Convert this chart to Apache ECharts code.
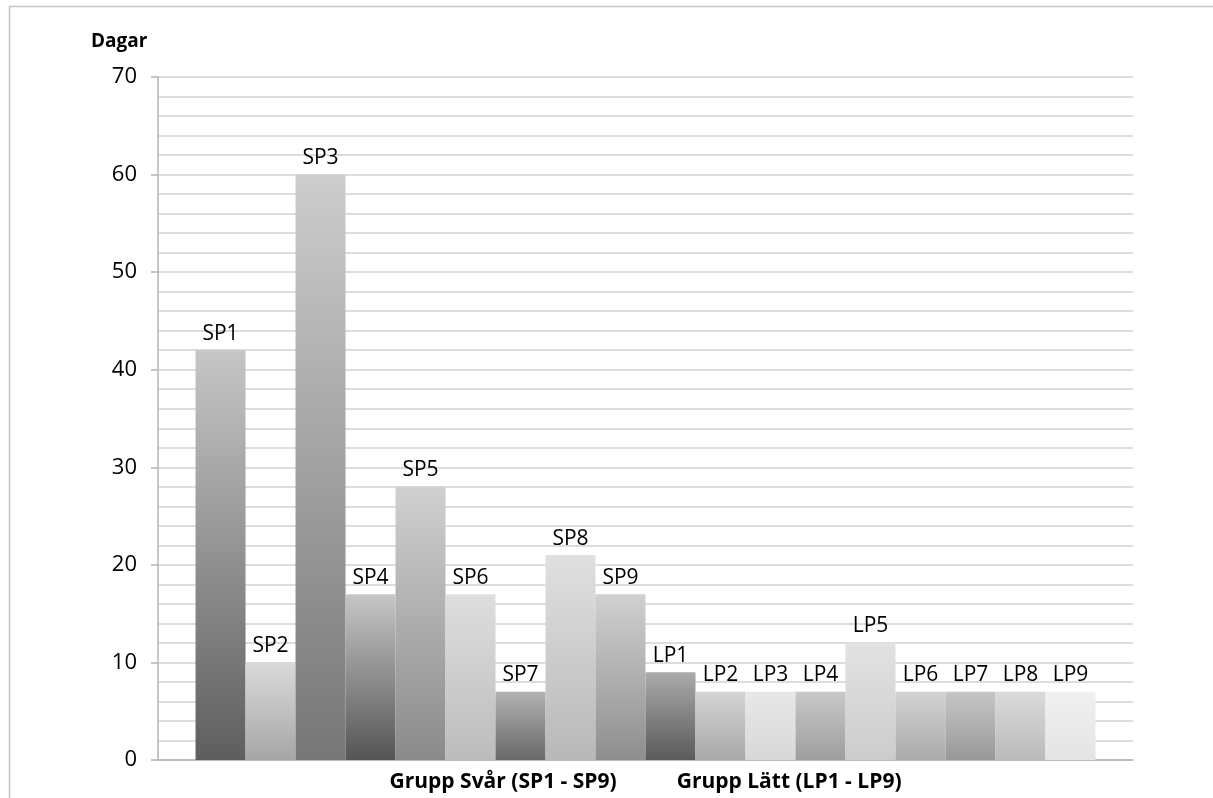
<!DOCTYPE html>
<html>
<head>
<meta charset="utf-8">
<script src="https://cdn.jsdelivr.net/npm/echarts@6/dist/echarts.min.js"></script>
<style>
html,body{margin:0;padding:0;background:#fff;}
#chart{width:1213px;height:798px;}
</style>
</head>
<body>
<div id="chart"></div>
<script>
// ---- data ----
var barNames = ['SP1','SP2','SP3','SP4','SP5','SP6','SP7','SP8','SP9',
                'LP1','LP2','LP3','LP4','LP5','LP6','LP7','LP8','LP9'];
var barValues = [42, 10, 60, 17, 28, 17, 7, 21, 17,
                 9, 7, 7, 7, 12, 7, 7, 7, 7];
var yTicks = [0, 10, 20, 30, 40, 50, 60, 70];
var yTitle = 'Dagar';
var groupLabels = ['Grupp Svår (SP1 - SP9)', 'Grupp Lätt (LP1 - LP9)'];

// ---- styles (gradient top / bottom per bar) ----
var gradTop = ['#c6c6c6','#dadada','#cdcdcd','#c6c6c6','#d0d0d0','#dedede','#b2b2b2','#e0e0e0','#d0d0d0',
               '#aaaaaa','#d4d4d4','#e8e8e8','#c8c8c8','#e2e2e2','#d2d2d2','#c6c6c6','#dadada','#f0f0f0'];
var gradBottom = ['#5e5e5e','#a6a6a6','#767676','#555555','#8a8a8a','#bcbcbc','#686868','#b8b8b8','#8e8e8e',
                  '#5a5a5a','#a8a8a8','#d8d8d8','#9e9e9e','#cccccc','#aaaaaa','#989898','#bababa','#e4e4e4'];

var FONT = 'Open Sans';

var series = barNames.map(function (name, i) {
  return {
    name: name,
    type: 'bar',
    data: [barValues[i]],
    barGap: 0,
    barCategoryGap: '7.7%',
    itemStyle: {
      color: {
        type: 'linear', x: 0, y: 0, x2: 0, y2: 1,
        colorStops: [{offset: 0, color: gradTop[i]}, {offset: 1, color: gradBottom[i]}]
      }
    },
    label: {
      show: true,
      position: 'top',
      distance: 6,
      formatter: '{a}',
      color: '#000',
      fontSize: 21,
      fontFamily: FONT
    }
  };
});

var chart = echarts.init(document.getElementById('chart'), null, {renderer: 'canvas'});
chart.setOption({
  animation: false,
  backgroundColor: '#fff',
  title: {
    text: yTitle,
    left: 86,
    top: 27,
    textStyle: {fontSize: 19, fontWeight: 'bold', color: '#000', fontFamily: FONT}
  },
  graphic: [{
    type: 'rect',
    shape: {x: 9.5, y: 6.5, width: 1400, height: 1000},
    style: {fill: 'none', stroke: '#c4c4c4', lineWidth: 1.5},
    silent: true,
    z: -10
  }],
  grid: {left: 158, right: 80, top: 77, bottom: 38, outerBoundsMode: 'none', containLabel: false},
  xAxis: {
    type: 'category',
    data: [''],
    axisTick: {show: false},
    axisLabel: {show: false},
    axisLine: {show: true, lineStyle: {color: '#b4b4b4', width: 1.5}},
    name: '{a|' + groupLabels[0] + '}{gap| }{a|' + groupLabels[1] + '}',
    nameLocation: 'middle',
    nameGap: 12,
    nameTextStyle: {
      rich: {
        a: {fontSize: 21, fontWeight: 'bold', color: '#000', fontFamily: FONT},
        gap: {width: 60, fontSize: 21}
      }
    }
  },
  yAxis: {
    type: 'value',
    min: yTicks[0],
    max: yTicks[yTicks.length - 1],
    interval: 10,
    axisLine: {show: true, lineStyle: {color: '#b4b4b4', width: 1.5}},
    axisTick: {show: true, length: 7, lineStyle: {color: '#b4b4b4', width: 1.5}},
    axisLabel: {margin: 21, fontSize: 22, color: '#000', fontFamily: FONT},
    splitLine: {show: true, lineStyle: {color: '#d2d2d2', width: 1.5}},
    minorTick: {show: false, splitNumber: 5},
    minorSplitLine: {show: true, lineStyle: {color: '#d2d2d2', width: 1.5}}
  },
  series: series
});
</script>
</body>
</html>
